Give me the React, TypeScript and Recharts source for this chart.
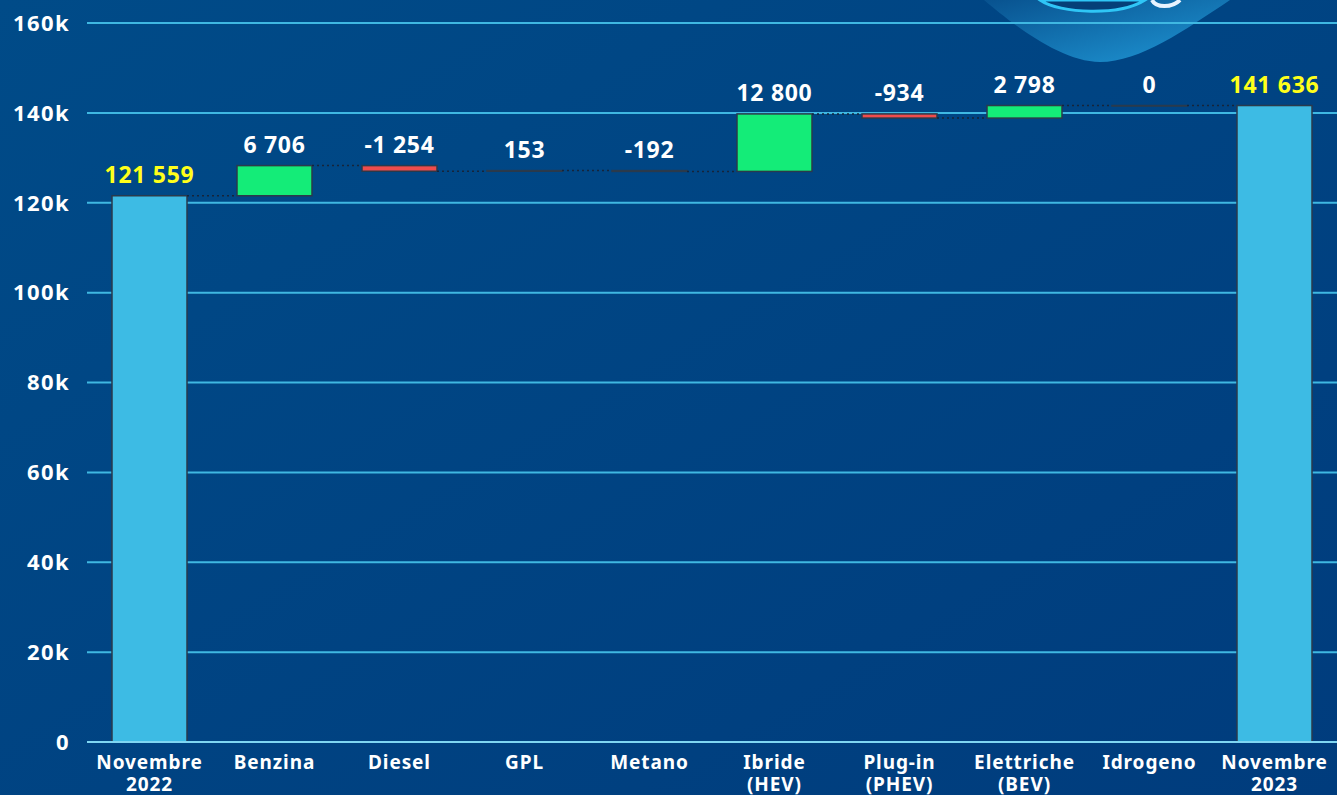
import React from "react";
import {BarChart, Bar, XAxis, YAxis, CartesianGrid, LabelList} from "recharts";

const categories = ["Novembre\n2022", "Benzina", "Diesel", "GPL", "Metano", "Ibride\n(HEV)", "Plug-in\n(PHEV)", "Elettriche\n(BEV)", "Idrogeno", "Novembre\n2023"];
const changes = [121559, 6706, -1254, 153, -192, 12800, -934, 2798, 0, 141636];
const isTotal = [true, false, false, false, false, false, false, false, false, true];
const yTicks = [0, 20000, 40000, 60000, 80000, 100000, 120000, 140000, 160000];

const FONT = "'Noto Sans', 'DejaVu Sans', sans-serif";

// build the waterfall rows: invisible base + visible step
let running = 0;
const rows = categories.map((name, i) => {
    let base = 0;
    let step = 0;
    if (isTotal[i]) {
        running = changes[i];
        step = changes[i];
    } else {
        const next = running + changes[i];
        base = Math.min(running, next);
        step = Math.abs(changes[i]);
        running = next;
    }
    return {name, base, step, change: changes[i], total: isTotal[i]};
});

const fmt = (v: number) => {
    const s = Math.abs(v).toString().replace(/\B(?=(\d{3})+(?!\d))/g, " ");
    return v < 0 ? "-" + s : s;
};

const StepShape = (props: any) => {
    const {x, y, width, height, index, payload} = props;
    const fill = payload.total ? "#3dbbe4" : payload.change >= 0 ? "#14ec78" : "#f04c4c";
    const endY = payload.total || payload.change >= 0 ? y : y + height;
    const gap = width * 2 / 3;
    return (
        <g>
            <rect x={x} y={y} width={width} height={Math.max(height, 0.5)} fill={fill} stroke="#2a3a4c" strokeWidth={1.5}/>
            {index < rows.length - 1 && (
                <line x1={x + width} x2={x + width + gap} y1={endY} y2={endY}
                      stroke="#16243a" strokeWidth={1.5} strokeDasharray="2 3"/>
            )}
        </g>
    );
};

const StepLabel = (props: any) => {
    const {x, y, width, index} = props;
    const row = rows[index];
    return (
        <text x={x + width / 2} y={y - 13} textAnchor="middle" fill={row.total ? "#ffff1a" : "#ffffff"}
              fontSize={23} fontWeight={700} fontFamily={FONT} letterSpacing={0.7}>
            {fmt(row.change)}
        </text>
    );
};

const CategoryTick = (props: any) => {
    const {x, y, payload} = props;
    const lines = String(payload.value).split("\n");
    return (
        <text x={x} y={y + 19} textAnchor="middle" fill="#ffffff" fontSize={19} fontWeight={700}
              fontFamily={FONT} letterSpacing={0.9}>
            {lines.map((l, i) => (
                <tspan key={i} x={x} dy={i === 0 ? 0 : 22}>{l}</tspan>
            ))}
        </text>
    );
};

const Decoration = () => (
    <svg width={1337} height={795} style={{position: "absolute", left: 0, top: 0}}>
        <defs>
            <linearGradient id="bg" x1="0" y1="0" x2="1" y2="1">
                <stop offset="0%" stopColor="#004b88"/>
                <stop offset="100%" stopColor="#003c7d"/>
            </linearGradient>
            <linearGradient id="blob" x1="0" y1="0" x2="1" y2="1">
                <stop offset="0%" stopColor="#08528f"/>
                <stop offset="100%" stopColor="#1f97d6"/>
            </linearGradient>
        </defs>
        <rect width={1337} height={795} fill="url(#bg)"/>
        <path d="M984,0 C1010,22 1060,62 1100,62 C1140,62 1185,30 1230,0 Z" fill="url(#blob)"/>
        <path d="M1040,0 C1060,14 1120,16 1145,0 Z" fill="#053f78" stroke="#2fc6f6" strokeWidth={3}/>
        <path d="M1152,0 C1156,8 1172,8 1180,0" fill="none" stroke="#e8f4ff" strokeWidth={4}/>
    </svg>
);

const App = () => {
    return (
        <div style={{position: "fixed", left: 0, top: 0, width: 1337, height: 795}}>
            <Decoration/>
            <div style={{position: "absolute", left: 0, top: 0}}>
                <BarChart width={1337} height={795} data={rows} barCategoryGap="20%"
                          margin={{top: 23, right: 0, bottom: 0, left: 0}}>
                    <CartesianGrid vertical={false} stroke="#3fb8e2" strokeWidth={2}/>
                    <XAxis dataKey="name" height={53} interval={0} tickLine={false}
                           axisLine={{stroke: "#7fd6f2", strokeWidth: 2}} tick={<CategoryTick/>}/>
                    <YAxis width={87} domain={[0, 160000]} ticks={yTicks} tickLine={false} axisLine={false}
                           tickMargin={11} tickFormatter={(v: number) => (v === 0 ? "0" : v / 1000 + "k")}
                           tick={{fill: "#ffffff", fontSize: 22, fontWeight: 700, fontFamily: FONT, letterSpacing: 1.4}}/>
                    <Bar dataKey="base" stackId="w" fill="transparent" isAnimationActive={false}/>
                    <Bar dataKey="step" stackId="w" shape={<StepShape/>} isAnimationActive={false}>
                        <LabelList dataKey="step" content={<StepLabel/>}/>
                    </Bar>
                </BarChart>
            </div>
        </div>
    );
};

export default App;
